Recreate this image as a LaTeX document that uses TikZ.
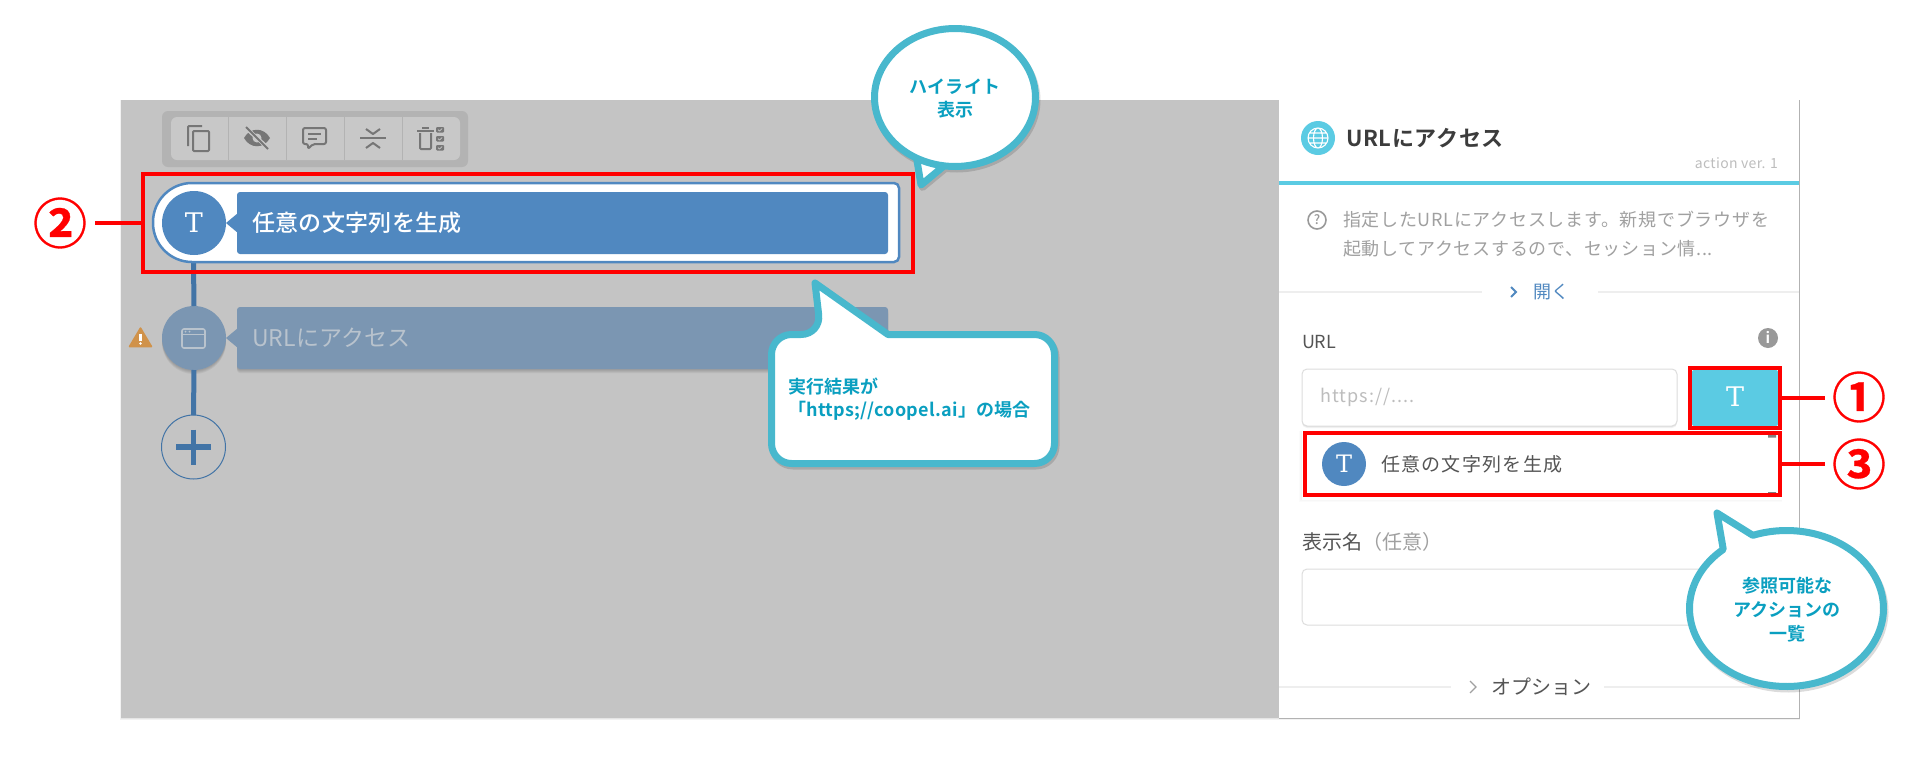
\documentclass[tikz,border=0pt]{standalone}
\usepackage{fontspec}
\setmainfont{Noto Sans CJK JP}[BoldFont={Noto Sans CJK JP Medium}]
\newfontfamily\heavy{Noto Sans CJK JP Bold}
\newfontfamily\ringed{Noto Sans CJK JP Bold}[FakeBold=0.6]
\newfontfamily\slab{DejaVu Serif}
\newcommand\cs[1]{\fontsize{#1}{#1}\selectfont\rule[-.12em]{0pt}{1em}}
\newcommand\ls[1]{\addfontfeature{LetterSpace=#1}}
\definecolor{canvasgray}{HTML}{C4C4C4}
\definecolor{barouter}{HTML}{B3B3B3}
\definecolor{barinner}{HTML}{C8C8C8}
\definecolor{baricon}{HTML}{767676}
\definecolor{nodeblue}{HTML}{5088C0}
\definecolor{trunkblue}{HTML}{4274A6}
\definecolor{dimblue}{HTML}{7B96B2}
\definecolor{dimtext}{HTML}{B9C3CD}
\definecolor{warnorange}{HTML}{D0924A}
\definecolor{cyanui}{HTML}{5BCBE3}
\definecolor{bubbleline}{HTML}{48B8CD}
\definecolor{bubbletext}{HTML}{0A9FC0}
\definecolor{hairline}{HTML}{EEEEEE}
\definecolor{boxline}{HTML}{DDDDDD}
\definecolor{darktext}{HTML}{3C3C3C}
\definecolor{midtext}{HTML}{555555}
\definecolor{softtext}{HTML}{A0A0A0}
\definecolor{palegray}{HTML}{BDBDBD}
\definecolor{iconshade}{HTML}{999999}
\tikzset{
  lbl/.style={inner sep=0pt,outer sep=0pt,anchor=west},
  ctr/.style={inner sep=0pt,outer sep=0pt,align=center},
  redbox/.style={draw=red,line width=3.5pt,inner sep=0pt,outer sep=0pt,fill=none},
  redline/.style={draw=red,line width=3.5pt},
  bubble/.style={draw=bubbleline,line width=7pt,fill=white,line join=round},
  bubbleshade/.style={draw=black,line width=7pt,opacity=.14,line join=round},
  tcircle/.style={circle,fill=nodeblue,inner sep=0pt,outer sep=0pt,text=white},
  baricn/.style={draw=baricon,line width=2pt,line join=round},
  trunk/.style={draw=trunkblue,line width=5pt},
}
\newcommand\bubblepath[9][bubble]{%
  \draw[#1] plot[samples=120,domain=#6:#7] ({#2+#4*cos(\x)},{#3+#5*sin(\x)}) -- (#8,#9) -- cycle;}
\begin{document}
\begin{tikzpicture}[x=1pt,y=-1pt]
\useasboundingbox (0,0) rectangle (1920,761);
\fill[white] (0,0) rectangle (1920,761);
% panel shadow
\foreach \d in {1,2}{\fill[black,opacity=.05] (121-\d/2,100) rectangle (1799+\d/2,718+\d);}
\fill[canvasgray] (121,100) rectangle (1279,718);
\fill[white] (1279,100) rectangle (1799,718);
\draw[black,opacity=.22,line width=1pt] (1799.5,100) -- (1799.5,718.5) -- (1279,718.5);
% toolbar
\fill[barouter,rounded corners=6pt] (162,111) rectangle (468,167);
\fill[barinner,rounded corners=6pt] (171,117) rectangle (460,160);
\foreach \xx in {228,286,344,402}{\draw[barouter,line width=.8pt] (\xx,117) -- (\xx,160);}
% copy
\draw[baricn,rounded corners=1pt] (188,146) -- (188,126) -- (202,126);
\draw[baricn,rounded corners=1pt] (193,131) rectangle (209,151);
% eye off
\fill[baricon] (244,138) .. controls (250,127) and (264,127) .. (270,138) .. controls (264,149) and (250,149) .. (244,138) -- cycle;
\fill[barinner] (257,138) circle (4.5pt);
\draw[barinner,line width=4pt] (246,128) -- (268,148);
\draw[baricon,line width=1.8pt] (246,127) -- (268,149);
% comment
\draw[baricn,rounded corners=2pt] (303,128) -- (326,128) -- (326,144) -- (313,144) -- (308,149) -- (308,144) -- (303,144) -- cycle;
\draw[baricon,line width=1.5pt] (308,134) -- (321,134) (308,139) -- (317,139);
% compress
\draw[baricn] (360,138) -- (386,138);
\draw[baricn] (366,129) -- (373,134) -- (380,129);
\draw[baricn] (366,148) -- (373,143) -- (380,148);
% trash and checks
\draw[baricn,rounded corners=1pt] (420,133) -- (420,149) -- (431,149) -- (431,133);
\draw[baricn] (417,131) -- (434,131) (422,128) -- (429,128);
\foreach \yy in {127,136,145}{\fill[baricon,rounded corners=1pt] (436,\yy) rectangle (444,\yy+5.5);
  \draw[barinner,line width=.7pt] (438,\yy+2.7) -- (439.5,\yy+4) -- (442,\yy+1.5);}
% trunk anchors and nodes
\coordinate (framebottom) at (193.5,262);
\foreach \d in {1,2,3,4}{\fill[black,opacity=.05,rounded corners=3pt] (237,307+\d) rectangle (888,369+\d);
  \fill[black,opacity=.05] (194,338+\d) circle (32pt);}
\node[circle,fill=dimblue,minimum size=64pt,inner sep=0pt,outer sep=0pt] (urlcircle) at (194,338) {};
\node[circle,draw=trunkblue,line width=1pt,minimum size=64pt,inner sep=0pt,outer sep=0pt] (plus) at (193.5,447) {};
\draw[trunk] (framebottom) -- (urlcircle.north);
\draw[trunk] (urlcircle.south) -- (plus.north);
\draw[trunkblue,line width=5.5pt] (176,447) -- (211,447) (193.5,429.5) -- (193.5,464.5);
% highlighted action
\draw[draw=nodeblue,fill=white,line width=2.5pt] [rounded corners=39pt] (500,183) -- (153,183) -- (153,262) -- (500,262) [rounded corners=5pt] -- (899,262) -- (899,183) -- cycle;
\node[tcircle,minimum size=64pt,font=\slab\fontsize{27}{27}\selectfont] (gencircle) at (194,223) {T};
\fill[nodeblue] (226,223) -- (238,213) -- (238,233) -- cycle;
\fill[nodeblue,rounded corners=3pt] (237,192) rectangle (888,254);
\node[lbl,text=white,font=\bfseries] (gentext) at (252,223) {\cs{23}\ls{1.5}任意の文字列を生成};
\node[redbox,minimum width=770pt,minimum height=98pt] (redtwo) at (528,223) {};
% dim action
\fill[dimblue] (226,338) -- (238,328) -- (238,348) -- cycle;
\fill[dimblue,rounded corners=3pt] (237,307) rectangle (888,369);
\node[lbl,text=dimtext] (urltext) at (252,338) {\cs{23}\ls{.5}URLにアクセス};
\draw[dimtext,line width=1.6pt,rounded corners=2pt] (182,329) rectangle (205,348);
\draw[dimtext,line width=1.4pt] (182,334.5) -- (205,334.5);
\fill[dimtext] (185.5,331.7) circle (1pt) (189.5,331.7) circle (1pt);
\fill[warnorange,draw=warnorange,line width=1.5pt,line join=round] (140.5,328) -- (151.5,346.5) -- (129.5,346.5) -- cycle;
\fill[white] (139.3,333.5) rectangle (141.7,341);
\fill[white] (140.5,343.5) circle (1.4pt);
% number two
\node[ctr,text=red,font=\ringed] (numtwo) at (60,223) {\cs{54}②};
\draw[redline] (redtwo.west) -- (95,223);
% right panel
\node[circle,fill=cyanui,minimum size=34pt,inner sep=0pt,outer sep=0pt] (globe) at (1318,138) {};
\draw[white,line width=1.1pt] (1318,138) circle (10pt) (1318,138) ellipse (4.5pt and 10pt) (1308,138) -- (1328,138) (1309.5,133) -- (1326.5,133) (1309.5,143) -- (1326.5,143);
\node[lbl,text=darktext,font=\heavy] (title) at (1346,138) {\cs{22}\ls{3}URLにアクセス};
\node[inner sep=0pt,outer sep=0pt,anchor=east,text=palegray] (version) at (1778,163) {\cs{14}\ls{2.5}action ver. 1};
\fill[cyanui] (1279,181) rectangle (1799,185);
\draw[iconshade,line width=1.6pt] (1317,220) circle (9pt);
\node[ctr,text=iconshade,font=\bfseries] (qmark) at (1317,220) {\cs{13}?};
\node[lbl,text=softtext] (descone) at (1343,220) {\cs{18}\ls{4}指定したURLにアクセスします。新規でブラウザを};
\node[lbl,text=softtext] (desctwo) at (1343,249) {\cs{18}\ls{4}起動してアクセスするので、セッション情...};
\draw[hairline,line width=1.5pt] (1279,292) -- (1482,292) (1598,292) -- (1799,292);
\draw[nodeblue,line width=2pt] (1511,287) -- (1516,292) -- (1511,297);
\node[lbl,text=nodeblue] (opentext) at (1533,292) {\cs{18}開く};
\node[lbl,text=midtext] (urllabel) at (1302,342) {\cs{18}URL};
\fill[iconshade] (1768,338) circle (10pt);
\node[ctr,text=white,font=\heavy] (infomark) at (1768,338) {\cs{15}i};
% url input
\foreach \d in {1,2}{\fill[black,opacity=.05,rounded corners=5pt] (1302,369+\d) rectangle (1677,426+\d);}
\draw[boxline,fill=white,rounded corners=5pt,line width=1pt] (1302,369) rectangle (1677,426);
\node[lbl,text=palegray] (placeholder) at (1320,397) {\cs{18}\ls{6}https://....};
% T button
\fill[cyanui,rounded corners=2pt] (1692,370) rectangle (1778,426);
\node[ctr,text=white,font=\slab\fontsize{27}{27}\selectfont] (btnT) at (1735,397) {T};
\node[redbox,minimum width=90pt,minimum height=60pt] (redone) at (1735,398) {};
\node[ctr,text=red,font=\ringed] (numone) at (1859,397) {\cs{54}①};
\coordinate (oneend) at (1825,398);
\draw[redline] (redone.east) -- (oneend);
% dropdown
\foreach \d in {1,2,3}{\fill[black,opacity=.015] (1302-\d,431) rectangle (1782,499+\d);}
\fill[white] (1302,431) rectangle (1782,500);
\fill[gray] (1768,435) rectangle (1776,437.5) (1768,492) rectangle (1776,494.5);
\node[tcircle,minimum size=44pt,font=\slab\fontsize{24}{24}\selectfont] (listcircle) at (1344,464) {T};
\node[lbl,text=midtext] (listtext) at (1381,464) {\cs{19}\ls{7}任意の文字列を生成};
\node[redbox,minimum width=475pt,minimum height=62pt] (redthree) at (1542.5,464) {};
\node[ctr,text=red,font=\ringed] (numthree) at (1859,464) {\cs{54}③};
\coordinate (threeend) at (1825,464);
\draw[redline] (redthree.east) -- (threeend);
% display name
\node[lbl,text=midtext] (namelabel) at (1302,542) {\cs{20}表示名\textcolor{softtext}{（任意）}};
\draw[boxline,rounded corners=5pt,line width=1pt] (1302,569) rectangle (1782,625);
\draw[hairline,line width=1.5pt] (1279,687) -- (1451,687) (1604,687) -- (1799,687);
\draw[softtext,line width=1.3pt] (1470,681) -- (1476,687) -- (1470,693);
\node[lbl,text=midtext] (optlabel) at (1491,687) {\cs{20}オプション};
% bubbles
\begin{scope}[shift={(1.5,2.5)}]
\bubblepath[bubbleshade]{955}{97.5}{80.5}{69}{97.8}{478.5}{921}{185}
\end{scope}
\bubblepath{955}{97.5}{80.5}{69}{97.8}{478.5}{921}{185}
\node[ctr,text=bubbletext,font=\heavy] (bubbleone) at (955,98) {\cs{18}\ls{2}ハイライト\\[4pt]\cs{18}表示};
\begin{scope}[shift={(1.5,2.5)}]
\draw[bubbleshade,rounded corners=20pt] (771.5,334.5) rectangle (1054.5,463.5);
\end{scope}
\draw[bubble] [rounded corners=20pt] (771.5,400) -- (771.5,334.5) -- (821,334.5) [sharp corners] -- (815,283) -- (888,334.5) [rounded corners=20pt] -- (1054.5,334.5) -- (1054.5,463.5) -- (771.5,463.5) -- cycle;
\node[lbl,text=bubbletext,font=\heavy] (bubbletwoa) at (788,387) {\cs{18}実行結果が};
\node[lbl,text=bubbletext,font=\heavy] (bubbletwob) at (788,411) {\cs{18}\ls{1.5}「https;//coopel.ai」の場合};
\begin{scope}[shift={(1.5,2.5)}]
\bubblepath[bubbleshade]{1786.5}{608.5}{97}{78}{249.7}{589.3}{1717}{513}
\end{scope}
\bubblepath{1786.5}{608.5}{97}{78}{249.7}{589.3}{1717}{513}
\node[ctr,text=bubbletext,font=\heavy] (bubblethree) at (1787,610) {\cs{18}参照可能な\\[5pt]\cs{18}アクションの\\[5pt]\cs{18}一覧};
\end{tikzpicture}
\end{document}
